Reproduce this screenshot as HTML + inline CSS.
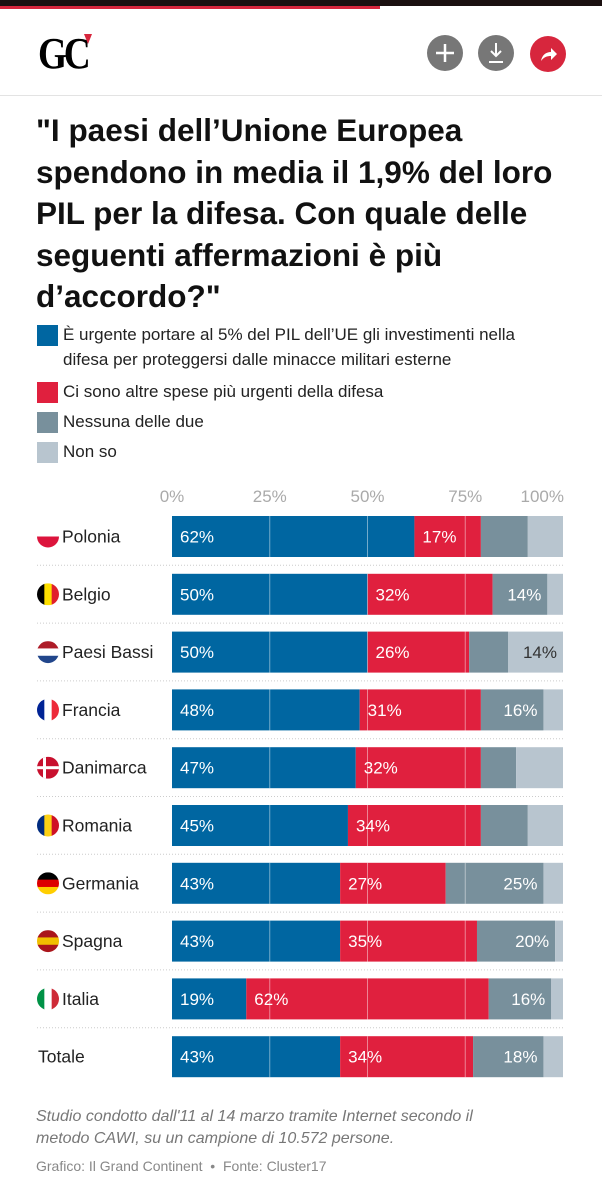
<!DOCTYPE html>
<html><head><meta charset="utf-8"><style>
body{margin:0;width:602px;height:1200px;background:#fff;font-family:"Liberation Sans",sans-serif;overflow:hidden;position:relative}
.abs{position:absolute}
.title{left:36px;top:110px;width:560px;font-size:31.5px;font-weight:bold;line-height:41.5px;color:#111;white-space:nowrap}
.leg{left:37px;font-size:17px;color:#222;line-height:25px;white-space:nowrap}
.leg i{position:absolute;left:0;top:3px;width:21px;height:21px}
.leg span{display:block;padding-left:26px}
.note{left:36px;top:1106px;width:560px;font-size:16px;font-style:italic;color:#777;line-height:22px;white-space:nowrap}
.src{left:36px;top:1158px;font-size:14px;color:#888}
</style></head><body>
<div class="abs" style="left:0;top:0;width:602px;height:6px;background:#1a1010"></div>
<div class="abs" style="left:0;top:6px;width:380px;height:3px;background:#d7263d"></div>
<div class="abs" style="left:38px;top:28px;font-family:'Liberation Serif',serif;font-size:44px;font-weight:bold;letter-spacing:-4px;color:#000;transform:scaleX(0.85);transform-origin:left">GC</div>
<div class="abs" style="left:84px;top:34px;width:0;height:0;border-left:4px solid transparent;border-right:4px solid transparent;border-top:10px solid #d7263d"></div>
<svg class="abs" style="left:0;top:0" width="602" height="100">
<circle cx="445" cy="53" r="18" fill="#777"/>
<path d="M445 44v18M436 53h18" stroke="#fff" stroke-width="2.5"/>
<circle cx="496" cy="53" r="18" fill="#777"/>
<path d="M496 43v13M491 51l5 5 5-5M489 62h14" stroke="#fff" stroke-width="2" fill="none"/>
<circle cx="548" cy="54" r="18" fill="#d7263d"/>
<path d="M541 61c1-6 5-9 10-9v-4l6 6-6 6v-4c-4 0-7 1-10 5z" fill="#fff"/>
<line x1="0" y1="95.5" x2="602" y2="95.5" stroke="#e3e3e3"/>
</svg>
<div class="abs title">"I paesi dell’Unione Europea<br>spendono in media il 1,9% del loro<br>PIL per la difesa. Con quale delle<br>seguenti affermazioni è più<br>d’accordo?"</div>
<div class="abs leg" style="top:322px"><i style="background:#0066a1"></i><span>È urgente portare al 5% del PIL dell’UE gli investimenti nella<br>difesa per proteggersi dalle minacce militari esterne</span></div>
<div class="abs leg" style="top:379px"><i style="background:#e0203e"></i><span>Ci sono altre spese più urgenti della difesa</span></div>
<div class="abs leg" style="top:409px"><i style="background:#78909c"></i><span>Nessuna delle due</span></div>
<div class="abs leg" style="top:439px"><i style="background:#b8c5cf"></i><span>Non so</span></div>
<svg id="chart" class="abs" style="left:0;top:480px" width="602" height="620"></svg>
<div class="abs note">Studio condotto dall'11 al 14 marzo tramite Internet secondo il<br>metodo CAWI, su un campione di 10.572 persone.</div>
<div class="abs src">Grafico: Il Grand Continent &nbsp;•&nbsp; Fonte: Cluster17</div>
<script>
const countries=["Polonia","Belgio","Paesi Bassi","Francia","Danimarca","Romania","Germania","Spagna","Italia","Totale"];
const urgent=[62,50,50,48,47,45,43,43,19,43];
const other=[17,32,26,31,32,34,27,35,62,34];
const neither=[12,14,10,16,9,12,25,20,16,18];
const dontKnow=[9,4,14,5,12,9,5,2,3,5];
const showUrgent=[1,1,1,1,1,1,1,1,1,1];
const showOther=[1,1,1,1,1,1,1,1,1,1];
const showNeither=[0,1,0,1,0,0,1,1,1,1];
const showDontKnow=[0,0,1,0,0,0,0,0,0,0];
const ticks=[0,25,50,75,100];
const flags=[["#fff","#dc143c"],["#000","#fddf00","#e0202c"],["#ae1c28","#fff","#21468b"],["#002395","#fff","#ed2939"],["#c8102e"],["#002b7f","#fcd116","#ce1126"],["#000","#dd0000","#ffce00"],["#aa151b","#f1bf00","#aa151b"],["#009246","#fff","#ce2b37"],null];
const flagDir=["h","v","h","v","dk","v","h","h","v",null];
const svg=document.getElementById('chart'),NS="http://www.w3.org/2000/svg";
const X0=172,W=391,x=v=>X0+v/100*W,rowY=i=>36+i*57.8,BH=41;
function el(t,a,p){const e=document.createElementNS(NS,t);for(const k in a)e.setAttribute(k,a[k]);(p||svg).appendChild(e);return e;}
ticks.forEach(t=>{const e=el('text',{x:x(t),y:22,'text-anchor':t===100?'end':'middle','font-size':17,fill:'#aaa','font-family':'Liberation Sans'});


e.textContent=t+'%';
if(t===100)e.setAttribute('x',x(t)+1);});
const series=[[urgent,"#0066a1",showUrgent,"#fff"],[other,"#e0203e",showOther,"#fff"],[neither,"#78909c",showNeither,"#fff"],[dontKnow,"#b8c5cf",showDontKnow,"#333"]];
const names=["urgent","other","neither","dont-know"];
countries.forEach((c,i)=>{const y=rowY(i);
 if(i>0){const l=el('line',{x1:37,x2:563,y1:y-8.5,y2:y-8.5,stroke:'#ccc','stroke-dasharray':'1 2'});
 
 }
 const lab=el('text',{x:i===9?38:62,y:y+BH/2+6,'font-size':17.5,fill:'#222','font-family':'Liberation Sans'});
 
 
 lab.textContent=c;
 if(flags[i]){const g=el('g',{});
  const cx=48,cy=y+BH/2,r=11,cp='clip'+i;
  const d=el('clipPath',{id:cp},g);el('circle',{cx,cy,r},d);
  const f=flags[i],n=f.length,gg=el('g',{'clip-path':`url(#${cp})`},g);
  if(flagDir[i]==='dk'){el('rect',{x:cx-r,y:cy-r,width:2*r,height:2*r,fill:'#c8102e'},gg);el('rect',{x:cx-5,y:cy-r,width:3,height:2*r,fill:'#fff'},gg);el('rect',{x:cx-r,y:cy-1.5,width:2*r,height:3,fill:'#fff'},gg);}
  else f.forEach((col,k)=>{if(flagDir[i]==='h')el('rect',{x:cx-r,y:cy-r+k*2*r/n,width:2*r,height:2*r/n+0.5,fill:col},gg);else el('rect',{x:cx-r+k*2*r/n,y:cy-r,width:2*r/n+0.5,height:2*r,fill:col},gg);});}
 let acc=0;
 series.forEach(([vals,col,show,tc],s)=>{const v=vals[i];
  const r=el('rect',{x:x(acc),y,width:x(acc+v)-x(acc),height:BH,fill:col});
  
  
  if(show[i]){const t=el('text',{'font-size':17,fill:tc,'font-family':'Liberation Sans',y:y+BH/2+6});
   
   
   t.textContent=v+'%';
   if(s===0||s===1){t.setAttribute('x',x(acc)+8);}else{t.setAttribute('x',x(acc+v)-6);t.setAttribute('text-anchor','end');}}
  acc+=v;});
 [25,50,75].forEach(t=>{el('line',{x1:x(t),x2:x(t),y1:y,y2:y+BH,stroke:'rgba(255,255,255,0.45)','stroke-width':1});});
});
</script>
</body></html>
